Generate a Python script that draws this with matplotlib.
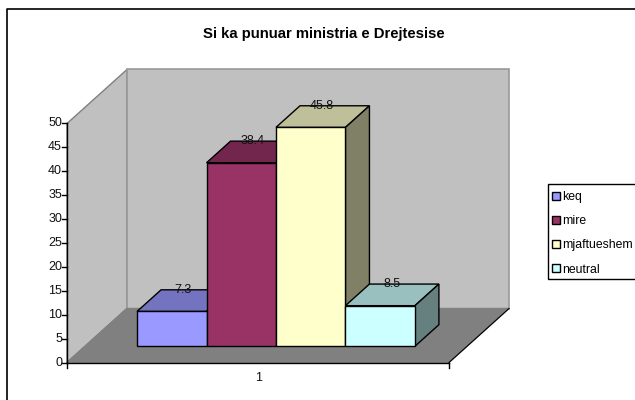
import matplotlib
matplotlib.use('Agg')
import matplotlib.pyplot as plt
from matplotlib.patches import Patch, Rectangle

plt.rcParams['font.family'] = ['Liberation Sans', 'DejaVu Sans']

title = 'Si ka punuar ministria e Drejtesise'
names = ['keq', 'mire', 'mjaftueshem', 'neutral']
values = [7.3, 38.4, 45.8, 8.5]
colors = ['#9999FF', '#993366', '#FFFFCC', '#CCFFFF']
tops = ['#7373BF', '#73264D', '#BFBF99', '#99BFBF']
sides = ['#4D4D80', '#4D1A33', '#808066', '#668080']
yticks = [0, 5, 10, 15, 20, 25, 30, 35, 40, 45, 50]
xlabel = '1'

# layout in pixels, y axis is in chart units
W, H = 635, 400
Y0 = 362.5
UNIT = 4.78
X0, X1 = 67, 449
DX, DY = 60, 54 / UNIT
YMAX = 50
GAP = 1.5


def pr(x, v, d=0):
    return (x + d * DX, v + d * DY)


def py(p):
    return (Y0 - p) / UNIT


fig = plt.figure(figsize=(W / 100, H / 100), dpi=100)
ax = fig.add_axes([0, 0, 1, 1])
ax.set_xlim(0, W)
ax.set_ylim(py(H), py(0))
ax.axis('off')

# outer frame, only left and top show
ax.plot([7, 7, W], [py(H), py(9.5), py(9.5)], color='black', lw=1.2, zorder=1)

# walls and floor
wall = '#C0C0C0'
ax.fill(*zip(pr(X0, 0), pr(X0, YMAX), pr(X0, YMAX, 1), pr(X0, 0, 1)),
        fc=wall, ec='#808080', lw=1)
ax.fill(*zip(pr(X0, 0, 1), pr(X0, YMAX, 1), pr(X1, YMAX, 1), pr(X1, 0, 1)),
        fc=wall, ec='#999999', lw=1.2)
ax.fill(*zip(pr(X0, 0), pr(X1, 0), pr(X1, 0, 1), pr(X0, 0, 1)),
        fc='#808080', ec='#808080', lw=1)

# front edge of floor and left axis
ax.plot([X0, X1], [0, 0], color='black', lw=1)
ax.plot(*zip(pr(X1, 0), pr(X1, 0, 1)), color='black', lw=0.8)
ax.plot(*zip(pr(X0, 0), pr(X0, 0, 1)), color='#808080', lw=0.8)
ax.plot([X0, X0], [0, YMAX], color='black', lw=1)
for t in yticks:
    ax.plot([X0 - 5, X0], [t, t], color='black', lw=1)
    ax.text(X0 - 5, t, str(t), ha='right', va='center', fontsize=9, color='#111111')
for x in [X0, X1]:
    ax.plot([x, x], [0, py(Y0 + 5)], color='black', lw=1)
ax.text((X0 + X1) / 2 + 1, py(378), xlabel, ha='center', va='center', fontsize=9, color='#111111')

# bars, left to right so later fronts cover earlier sides
bw = (X1 - X0) / (len(values) + GAP)
left = X0 + GAP / 2 * bw
d0, d1 = 0.3, 0.7
for i, v in enumerate(values):
    a = left + i * bw
    b = a + bw
    ax.fill(*zip(pr(a, v, d0), pr(b, v, d0), pr(b, v, d1), pr(a, v, d1)),
            fc=tops[i], ec='black', lw=1)
    ax.fill(*zip(pr(b, 0, d0), pr(b, v, d0), pr(b, v, d1), pr(b, 0, d1)),
            fc=sides[i], ec='black', lw=1)
    ax.fill(*zip(pr(a, 0, d0), pr(b, 0, d0), pr(b, v, d0), pr(a, v, d0)),
            fc=colors[i], ec='black', lw=1)
for i, v in enumerate(values):
    lx = left + (i + 0.5) * bw + 0.5 * DX
    ax.text(lx - 0.5, v + d1 * DY, str(v), ha='center', va='center', fontsize=9, color='#111111')

ax.text(324, py(34), title, ha='center', va='center', fontsize=10.7, fontweight='bold', color='black')

# legend box runs off the right edge
ax.add_patch(Rectangle((548, py(279)), 100, py(184) - py(279), fc='white', ec='black', lw=1, clip_on=True))
handles = [Patch(fc=c, ec='black', lw=1) for c in colors]
leg = ax.legend(handles, names, loc='upper left', bbox_to_anchor=(552 / W, 1 - 191 / H),
                bbox_transform=ax.transAxes, fontsize=8.8, frameon=False,
                borderaxespad=0, borderpad=0,
                handlelength=0.62, handleheight=0.62, handletextpad=0.2, labelspacing=1.0)

fig.savefig('out.png', dpi=100)
